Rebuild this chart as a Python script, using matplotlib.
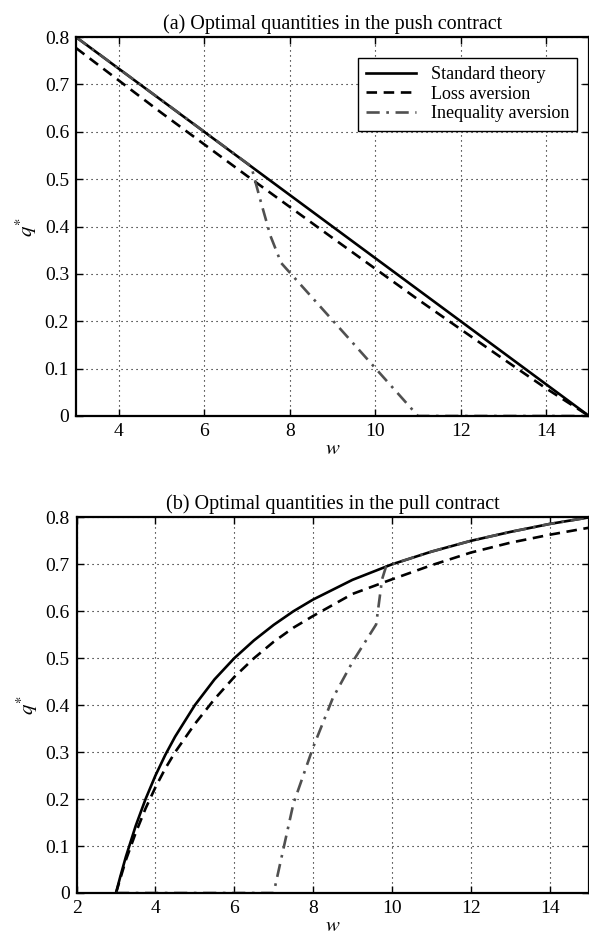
import numpy as np
import matplotlib
matplotlib.use('Agg')
import matplotlib.pyplot as plt
from matplotlib.ticker import FuncFormatter

plt.rcParams['font.family'] = ['Liberation Serif', 'DejaVu Serif']
plt.rcParams['mathtext.fontset'] = 'stix'
plt.rcParams['font.size'] = 13

# (a) push contract
push_w_std = [3, 15]
push_q_std = [0.8, 0.0]
push_w_loss = [3, 5, 7, 9, 11, 13, 14, 15]
push_q_loss = [0.777, 0.64, 0.507, 0.376, 0.246, 0.12, 0.058, 0.0]
push_w_ineq = [3, 7.1, 7.3, 7.55, 7.8, 9.3, 11.0, 15]
push_q_ineq = [0.8, 0.527, 0.46, 0.38, 0.323, 0.172, 0.0, 0.0]

# (b) pull contract
pull_w_std = [3, 3.1, 3.25, 3.5, 3.75, 4, 4.25, 4.5, 5, 5.5, 6, 6.5, 7, 7.5, 8,
              9, 10, 11, 12, 13, 14, 15]
pull_q_std = [0.0, 0.032, 0.077, 0.143, 0.2, 0.25, 0.294, 0.333, 0.4, 0.455,
              0.5, 0.538, 0.571, 0.6, 0.625, 0.667, 0.7, 0.727, 0.75, 0.769,
              0.786, 0.8]
pull_w_loss = [3, 3.1, 3.25, 3.5, 3.75, 4, 4.25, 4.5, 5, 5.5, 6, 6.5, 7, 7.5, 8,
               9, 10, 11, 12, 13, 14, 15]
pull_q_loss = [0.0, 0.028, 0.07, 0.128, 0.18, 0.225, 0.265, 0.3, 0.36, 0.413,
               0.46, 0.5, 0.535, 0.565, 0.59, 0.637, 0.668, 0.698, 0.725, 0.746,
               0.763, 0.778]
pull_w_ineq = [3, 7.0, 7.5, 8, 8.5, 9, 9.6, 9.75, 9.85, 10, 11, 12, 13, 14, 15]
pull_q_ineq = [0.0, 0.0, 0.19, 0.31, 0.415, 0.492, 0.572, 0.668, 0.695,
               0.7, 0.727, 0.75, 0.769, 0.786, 0.8]

labels = ['Standard theory', 'Loss aversion', 'Inequality aversion']
yticks = [0, 0.1, 0.2, 0.3, 0.4, 0.5, 0.6, 0.7, 0.8]

fig = plt.figure(figsize=(5.89, 9.39), dpi=100)
ax1 = fig.add_axes([0.129, 0.557, 0.871, 0.4035])
ax2 = fig.add_axes([0.130, 0.0490, 0.870, 0.4000])


def style_axes(ax, xlim, xticks, title):
    ax.set_xlim(xlim)
    ax.set_ylim(0, 0.8)
    ax.set_xticks(xticks)
    ax.set_yticks(yticks)
    ax.yaxis.set_major_formatter(FuncFormatter(lambda v, p: '0' if v == 0 else '%g' % v))
    ax.grid(True, linestyle=(0, (1, 3.5)), color='k', linewidth=0.8)
    ax.tick_params(direction='in', top=True, right=True, length=5, width=1,
                   labelsize=14, pad=5)
    for sp in ax.spines.values():
        sp.set_linewidth(1.6)
    ax.set_xlabel(r'$w$', fontsize=15, labelpad=0)
    ax.set_ylabel(r'$q^{*}$', fontsize=15, labelpad=4)
    ax.set_title(title, fontsize=14.5, pad=6)


ax1.plot(push_w_std, push_q_std, color='k', lw=1.9, label=labels[0])
ax1.plot(push_w_loss, push_q_loss, color='k', lw=1.9, linestyle=(0, (4, 2.5)), label=labels[1])
ax1.plot(push_w_ineq, push_q_ineq, color='#505050', lw=1.9,
         linestyle=(0, (5, 2.5, 1, 2.5)), label=labels[2])
style_axes(ax1, (3, 15), [4, 6, 8, 10, 12, 14],
           '(a) Optimal quantities in the push contract')
leg = ax1.legend(loc='upper right', bbox_to_anchor=(0.977, 0.945), borderaxespad=0,
                 fancybox=False, edgecolor='k', framealpha=1, fontsize=13,
                 handlelength=2.8, labelspacing=0.15, borderpad=0.45)
leg.get_frame().set_linewidth(1.0)

ax2.plot(pull_w_std, pull_q_std, color='k', lw=1.9)
ax2.plot(pull_w_loss, pull_q_loss, color='k', lw=1.9, linestyle=(0, (4, 2.5)))
ax2.plot(pull_w_ineq, pull_q_ineq, color='#505050', lw=1.9,
         linestyle=(0, (5, 2.5, 1, 2.5)))
style_axes(ax2, (2, 15), [2, 4, 6, 8, 10, 12, 14],
           '(b) Optimal quantities in the pull contract')

fig.savefig('out.png', dpi=100)
